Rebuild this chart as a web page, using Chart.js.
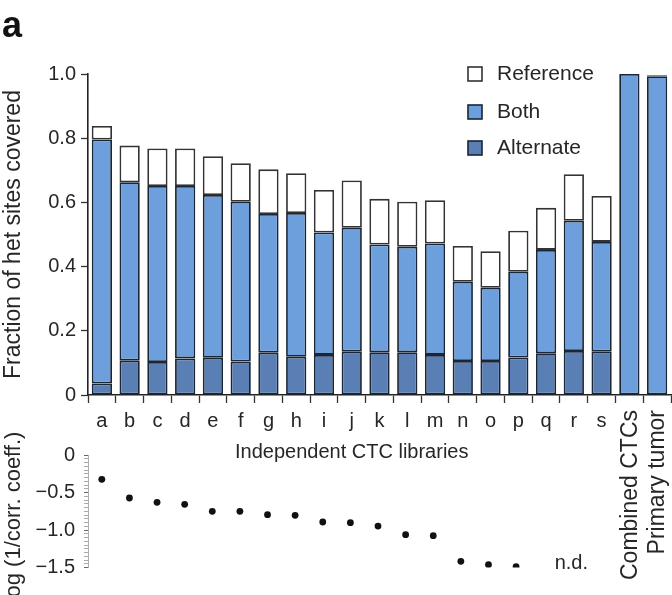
<!DOCTYPE html>
<html>
<head>
<meta charset="utf-8">
<script src="https://cdn.jsdelivr.net/npm/chart.js@4/dist/chart.umd.min.js"></script>
<style>
  html, body { margin: 0; padding: 0; background: #fff; }
  #wrap { position: relative; width: 672px; height: 595px; }
  canvas { position: absolute; left: 0; top: 0; }
</style>
</head>
<body>
<div id="wrap">
  <canvas id="top" width="672" height="595"></canvas>
  <canvas id="bottom" width="672" height="595"></canvas>
</div>
<script>
// ---- Data ----
const categories = ['a','b','c','d','e','f','g','h','i','j','k','l','m','n','o','p','q','r','s','Combined CTCs','Primary tumor'];
const rotatedLabels = ['Combined CTCs','Primary tumor'];
// stacked segment heights (fraction of het sites covered)
const alternate = [0.036,0.107,0.103,0.114,0.116,0.104,0.132,0.119,0.125,0.135,0.133,0.133,0.125,0.106,0.106,0.117,0.130,0.137,0.135,null,null];
const both      = [0.760,0.556,0.548,0.537,0.507,0.498,0.432,0.448,0.381,0.386,0.336,0.329,0.347,0.247,0.228,0.267,0.322,0.406,0.342,1.000,0.993];
const reference = [0.042,0.114,0.117,0.117,0.121,0.120,0.139,0.124,0.133,0.147,0.142,0.140,0.135,0.111,0.114,0.128,0.131,0.145,0.143,null,0.003];
// log(1/corr. coeff.) per library; null = not determined
const logCorr   = [-0.324,-0.573,-0.631,-0.658,-0.751,-0.751,-0.796,-0.804,-0.893,-0.902,-0.947,-1.062,-1.076,-1.418,-1.462,-1.489,null,null,null,null,null];
const ndLabel = 'n.d.';
const ndCategory = 'r';
const yTicksTop = [0, 0.2, 0.4, 0.6, 0.8, 1.0];
const yTicksBottom = [0, -0.5, -1.0, -1.5];
const seriesNames = ['Alternate','Both','Reference'];

const FONT = '"Liberation Sans", Arial, Helvetica, sans-serif';
const TXT = '#262626';
const COL_ALT = '#5a7fb5';
const COL_BOTH = '#6d9fdc';
const COL_REF = '#ffffff';
const EDGE = '#1a2535';

Chart.defaults.font.family = FONT;
Chart.defaults.color = TXT;

const topTextPlugin = {
  id: 'topText',
  afterDraw(chart) {
    const ctx = chart.ctx;
    const x = chart.scales.x;
    ctx.save();
    ctx.fillStyle = '#111';
    // panel letter
    ctx.font = 'bold 36px ' + FONT;
    ctx.textAlign = 'left';
    ctx.textBaseline = 'alphabetic';
    ctx.fillText('a', 2, 37);
    ctx.fillStyle = TXT;
    // x-axis title centred under the independent libraries
    const xa = x.getPixelForValue(0), xs = x.getPixelForValue(18);
    ctx.font = '20px ' + FONT;
    ctx.textAlign = 'center';
    ctx.textBaseline = 'middle';
    ctx.fillText('Independent CTC libraries', (xa + xs) / 2, 452);
    // rotated category labels
    rotatedLabels.forEach(lbl => {
      const i = categories.indexOf(lbl);
      const px = x.getPixelForValue(i);
      ctx.save();
      ctx.translate(px + 1, 410);
      ctx.rotate(-Math.PI / 2);
      ctx.textAlign = 'right';
      ctx.textBaseline = 'middle';
      ctx.font = '23px ' + FONT;
      ctx.fillText(lbl, 0, 0);
      ctx.restore();
    });
    // legend
    const items = [
      {name: seriesNames[2], fill: COL_REF, edge: '#333'},
      {name: seriesNames[1], fill: COL_BOTH, edge: EDGE},
      {name: seriesNames[0], fill: COL_ALT, edge: EDGE}
    ];
    const ys = [74, 112, 148];
    items.forEach((it, k) => {
      const cy = ys[k];
      ctx.fillStyle = it.fill;
      ctx.fillRect(468, cy - 7, 14, 14);
      ctx.strokeStyle = it.edge;
      ctx.lineWidth = 1.6;
      ctx.strokeRect(468, cy - 7, 14, 14);
      ctx.fillStyle = TXT;
      ctx.font = '21px ' + FONT;
      ctx.textAlign = 'left';
      ctx.textBaseline = 'middle';
      ctx.fillText(it.name, 497, cy);
    });
    ctx.restore();
  }
};

new Chart(document.getElementById('top'), {
  type: 'bar',
  data: {
    labels: categories,
    datasets: [
      {label: seriesNames[0], data: alternate, backgroundColor: COL_ALT, borderColor: EDGE, borderWidth: 1.8, borderSkipped: false},
      {label: seriesNames[1], data: both, backgroundColor: COL_BOTH, borderColor: EDGE, borderWidth: 1.8, borderSkipped: false},
      {label: seriesNames[2], data: reference, backgroundColor: COL_REF, borderColor: '#333', borderWidth: 1.8, borderSkipped: false}
    ]
  },
  options: {
    responsive: false,
    animation: false,
    events: [],
    layout: {padding: {top: 74, left: 0, right: 1, bottom: 0}},
    plugins: {legend: {display: false}, tooltip: {enabled: false}},
    datasets: {bar: {categoryPercentage: 1.0, barPercentage: 0.73}},
    scales: {
      x: {
        stacked: true,
        grid: {display: true, drawOnChartArea: false, drawTicks: true, tickLength: 8, tickColor: '#333', tickWidth: 1.3},
        border: {display: true, color: '#222', width: 1.6},
        ticks: {
          autoSkip: false, maxRotation: 0, minRotation: 0, padding: 6,
          font: {size: 20}, color: TXT,
          callback: (v, i) => rotatedLabels.includes(categories[i]) ? '' : categories[i]
        },
        afterFit: s => { s.height = 200; }
      },
      y: {
        stacked: true,
        min: 0, max: 1,
        afterBuildTicks: s => { s.ticks = yTicksTop.map(v => ({value: v})); },
        grid: {display: true, drawOnChartArea: false, drawTicks: true, tickLength: 7, tickColor: '#333', tickWidth: 1.3},
        border: {display: true, color: '#222', width: 1.6},
        ticks: {
          padding: 5, font: {size: 20}, color: TXT,
          callback: v => v === 0 ? '0' : v.toFixed(1)
        },
        title: {display: true, text: 'Fraction of het sites covered', font: {size: 23}, color: TXT, padding: {top: 0, bottom: 0}},
        afterFit: s => { s.width = 88; }
      }
    }
  },
  plugins: [topTextPlugin]
});

const bottomTextPlugin = {
  id: 'bottomText',
  afterDraw(chart) {
    const ctx = chart.ctx;
    const x = chart.scales.x, y = chart.scales.y;
    ctx.save();
    ctx.fillStyle = TXT;
    ctx.font = '20px ' + FONT;
    // n.d. marker
    ctx.textAlign = 'center';
    ctx.textBaseline = 'middle';
    ctx.fillText(ndLabel, x.getPixelForValue(categories.indexOf(ndCategory)), y.getPixelForValue(-1.44));
    // y title
    ctx.font = '22px ' + FONT;
    ctx.translate(14, 517);
    ctx.rotate(-Math.PI / 2);
    ctx.fillText('log (1/corr. coeff.)', 0, 0);
    ctx.restore();
  }
};

const minorTicks = [];
for (let k = 0; k <= 30; k++) minorTicks.push(-k * 0.05);

new Chart(document.getElementById('bottom'), {
  type: 'line',
  data: {
    labels: categories,
    datasets: [{
      label: 'log (1/corr. coeff.)', data: logCorr, showLine: false,
      pointRadius: 3.4, pointBackgroundColor: '#111', pointBorderColor: '#111', pointBorderWidth: 0
    }]
  },
  options: {
    responsive: false,
    animation: false,
    events: [],
    layout: {padding: {top: 455, left: 0, right: 1, bottom: 27.5}},
    plugins: {legend: {display: false}, tooltip: {enabled: false}},
    scales: {
      x: {type: 'category', offset: true, display: false},
      y: {
        min: -1.5, max: 0,
        afterBuildTicks: s => { s.ticks = minorTicks.map(v => ({value: v})); },
        grid: {
          display: true, drawOnChartArea: false, drawTicks: true, tickLength: 4,
          tickColor: ctx => {
            const v = ctx.tick ? ctx.tick.value : 0;
            return yTicksBottom.some(t => Math.abs(t - v) < 1e-6) ? '#666' : '#aaa';
          },
          tickWidth: 1
        },
        border: {display: true, color: '#b0b0b0', width: 1},
        ticks: {
          autoSkip: false, padding: 9, font: {size: 20}, color: TXT,
          callback: v => {
            const t = yTicksBottom.find(t => Math.abs(t - v) < 1e-6);
            if (t === undefined) return '';
            return t === 0 ? '0' : '\u2212' + Math.abs(t).toFixed(1);
          }
        },
        afterFit: s => { s.width = 88; }
      }
    }
  },
  plugins: [bottomTextPlugin]
});
</script>
</body>
</html>
